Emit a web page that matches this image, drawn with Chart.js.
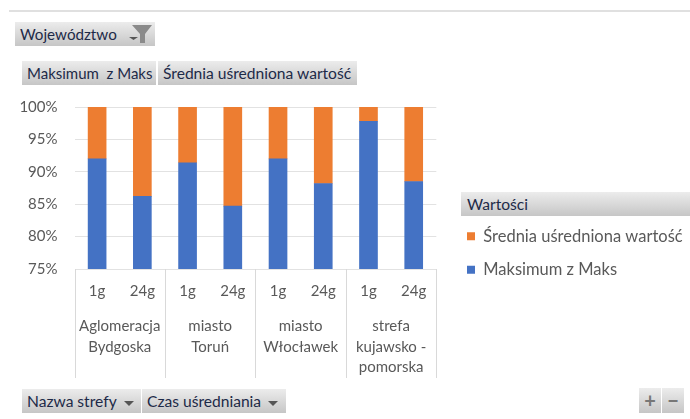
<!DOCTYPE html>
<html><head><meta charset="utf-8">
<script src="https://cdn.jsdelivr.net/npm/chart.js@4/dist/chart.umd.min.js"></script>
<style>
html,body{margin:0;padding:0;background:#fff;overflow:hidden}
#wrap{position:relative;width:690px;height:419px;font-family:Lato,sans-serif}
canvas{position:absolute;left:0;top:0}
.b{position:absolute;box-sizing:border-box;background:linear-gradient(#ececec,#c6c6c6);color:#1d2a48;font-size:15.6px;line-height:24px;white-space:pre;padding-left:5px}
.tri{display:inline-block;width:0;height:0;border-left:5px solid transparent;border-right:5px solid transparent;border-top:5px solid #555;margin-left:7px;vertical-align:1px}
#top{position:absolute;left:9px;right:0;top:10px;height:2px;background:#e0e0e0}
</style></head><body>
<div id="wrap">
<canvas id="c" width="690" height="419"></canvas>
<div id="top"></div>
<div class="b" style="left:15px;top:22px;width:140px;height:24px;font-size:15.2px">Województwo<svg width="34" height="20" style="position:absolute;left:105px;top:2px"><path d="M18 13h-9l4.500 3z" fill="#555"/><path d="M12 1h20l-7 9v9h-5v-9z" fill="#8a8a8a"/></svg></div>
<div class="b" style="left:22px;top:61px;width:134px;height:24px;font-size:15px">Maksimum  z Maks</div>
<div class="b" style="left:158px;top:61px;width:199px;height:24px">Średnia uśredniona wartość</div>
<div class="b" style="left:22px;top:389px;width:119px;height:24px">Nazwa strefy<span class="tri"></span></div>
<div class="b" style="left:142px;top:389px;width:144px;height:24px">Czas uśredniania<span class="tri"></span></div>
<div class="b" style="left:461px;top:192px;width:229px;height:24px;padding-left:6px">Wartości</div>
<div class="b" style="left:639px;top:388px;width:22px;height:25px;padding:0;text-align:center;color:#777;font-size:20px;font-weight:bold">+</div>
<div class="b" style="left:662px;top:388px;width:22px;height:25px;padding:0;text-align:center;color:#777;font-size:20px;font-weight:bold">−</div>
</div>
<script>
const times = ["1g","24g","1g","24g","1g","24g","1g","24g"];
const zones = [["Aglomeracja","Bydgoska"],["miasto","Toruń"],["miasto","Włocławek"],["strefa","kujawsko -","pomorska"]];
const maxValues = [92.0,86.2,91.4,84.7,92.0,88.2,97.8,88.5];
const avgValues = [8.0,13.8,8.6,15.3,8.0,11.8,2.2,11.5];
const yTicks = [75,80,85,90,95,100];
const nameMax = "Maksimum z Maks";
const nameAvg = "Średnia uśredniona wartość";
const textCol = "#595959";
const lineCol = "#d9d9d9";

const framePlugin = {
  id:"frame",
  afterLayout(chart){
    const l = chart.legend;
    const w = l.right-l.left, h = l.bottom-l.top;
    const pad = l.options.labels.padding;
    l.left = 467-pad; l.right = l.left+w;
    l.top = 228-pad; l.bottom = l.top+h;
  },
  beforeDatasetsDraw(chart){
    const {ctx,chartArea:a,scales} = chart;
    const g = scales.group;
    ctx.save();
    ctx.strokeStyle = lineCol; ctx.lineWidth = 1;
    ctx.beginPath();
    const step = (g.right-g.left)/zones.length;
    for(let i=0;i<=zones.length;i++){
      const x = Math.round(g.getPixelForTick(0)-step/2+i*step)+.5;
      ctx.moveTo(x,a.bottom); ctx.lineTo(x,g.bottom);
    }
    ctx.stroke(); ctx.restore();
  }
};

new Chart(document.getElementById("c"),{
  type:"bar",
  plugins:[framePlugin],
  data:{labels:times,datasets:[
    {label:nameMax,data:maxValues,backgroundColor:"#4472c4",stack:"s",barThickness:18,xAxisID:"x"},
    {label:nameAvg,data:avgValues,backgroundColor:"#ed7d31",stack:"s",barThickness:18,xAxisID:"x"}
  ]},
  options:{
    responsive:false,animation:false,
    layout:{padding:{top:107,left:0,right:11,bottom:41}},
    plugins:{
      title:{display:false},tooltip:{enabled:false},
      legend:{position:"right",align:"start",reverse:true,maxWidth:253,
        labels:{boxWidth:8,boxHeight:8,padding:17,color:textCol,font:{family:"Lato",size:16.5}}}
    },
    scales:{
      y:{min:75,max:100,stacked:true,
        afterBuildTicks(s){s.ticks=yTicks.map(v=>({value:v}));},
        afterFit(s){s.width=74.5;},
        grid:{display:true,color:"#e2e2e2",drawTicks:false},border:{display:false},
        ticks:{color:textCol,padding:17,font:{family:"Lato",size:15},callback:v=>v+"%"}},
      x:{stacked:true,position:"bottom",
        afterFit(s){s.height=40;},
        grid:{display:false,drawTicks:false},border:{display:false},
        ticks:{color:textCol,padding:13,autoSkip:false,maxRotation:0,font:{family:"Lato",size:15}}},
      group:{type:"category",labels:zones,position:"bottom",
        afterFit(s){s.height=69;},
        grid:{display:false,drawTicks:false},border:{display:false},
        ticks:{color:textCol,padding:7,autoSkip:false,maxRotation:0,font:{family:"Lato",size:15,lineHeight:1.37}}}
    }
  }
});
</script>
</body></html>
